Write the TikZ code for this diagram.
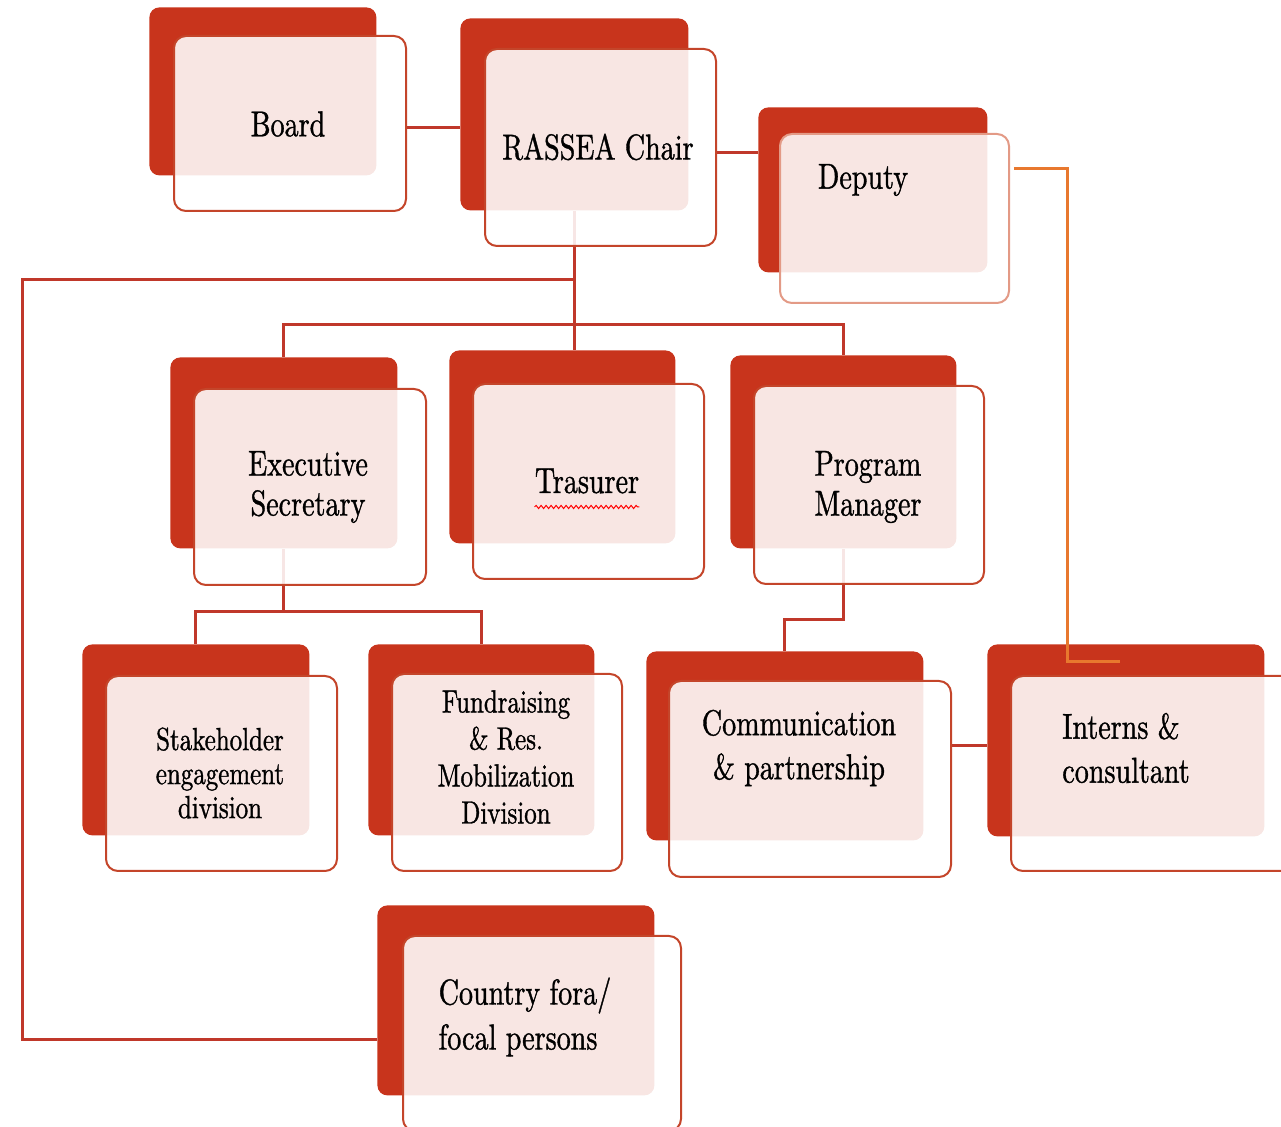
\documentclass[tikz,border=0pt]{standalone}
\usepackage{fontspec}
\setmainfont{lmroman10-regular.otf}[FakeStretch=0.78, FakeBold=1]
\usepackage{tikz}
\usetikzlibrary{positioning,calc,backgrounds,decorations.pathmorphing}

\definecolor{rustred}{HTML}{C8341C}
\definecolor{edgered}{HTML}{C4452A}
\definecolor{linered}{HTML}{C0382A}
\definecolor{deporange}{HTML}{E8782E}
\definecolor{deplight}{HTML}{E39A86}

\begin{document}
\begin{tikzpicture}[
  x=0.5pt, y=-0.5pt,
  backbox/.style={
    rectangle, rounded corners=5pt, fill=rustred, anchor=north west,
    inner sep=0pt, minimum width=113.5pt, minimum height=95.5pt
  },
  frontbox/.style={
    rectangle, rounded corners=6pt, draw=edgered, line width=1pt,
    fill=white, fill opacity=0.88, anchor=north west,
    inner sep=0pt, minimum width=115.5pt, minimum height=97.5pt
  },
  wide/.style={minimum width=138.5pt},
  widefront/.style={minimum width=141pt},
  lbl/.style={font=\fontsize{18}{20}\selectfont, align=center, inner sep=0pt},
  small/.style={font=\fontsize{16}{17}\selectfont},
  conn/.style={draw=linered, line width=1.5pt},
  spell/.style={draw=red, line width=0.5pt,
    decorate, decoration={snake, amplitude=0.8pt, segment length=2.5pt}}
]
\useasboundingbox (0,0) rectangle (1281,1127);

% Top row
\node[backbox, minimum height=84pt] (boardB) at (149,7) {};
\node[frontbox, minimum width=116pt, minimum height=87.5pt] (board) at (173,35) {};
\node[lbl] (boardT) at (288,124) {Board};

\node[backbox, minimum width=114pt, minimum height=96pt] (chairB) at (460,18) {};
\node[frontbox, minimum height=98.5pt] (chair) at (484,48) {};
\node[lbl] (chairT) at (598,147) {RASSEA Chair};

\node[backbox, minimum width=114.5pt, minimum height=82.5pt] (depB) at (758,107) {};
\node[frontbox, draw=deplight, minimum width=114.5pt, minimum height=84.5pt] (dep) at (779,133) {};
\node[lbl] (depT) at (863,180) {Deputy};

% Middle row
\node[backbox] (execB) at (170,357) {};
\node[frontbox, minimum width=116pt, minimum height=98pt] (exec) at (193,388) {};
\node[lbl, font=\fontsize{18}{20}\selectfont] (execT) at (308,487) {Executive\\Secretary};

\node[backbox, minimum width=113pt, minimum height=96.5pt] (trasB) at (449,350) {};
\node[frontbox] (tras) at (472,383) {};
\node[lbl] (trasT) at (587,481) {Trasurer};
\draw[spell] ($(trasT.base west)+(0,14)$) -- ($(trasT.base east)+(0,14)$);

\node[backbox, minimum width=113pt, minimum height=96.5pt] (pmB) at (730,355) {};
\node[frontbox, minimum width=115pt, minimum height=99pt] (pm) at (753,385) {};
\node[lbl] (pmT) at (868,487) {Program\\Manager};

% Bottom row
\node[backbox] (stkB) at (82,644) {};
\node[frontbox] (stk) at (105,675) {};
\node[lbl, small] (stkT) at (220,773) {Stakeholder\\engagement\\division};

\node[backbox, minimum width=113pt] (fundB) at (368,644) {};
\node[frontbox, minimum width=115pt, minimum height=98.5pt] (fund) at (391,673) {};
\node[lbl, font=\fontsize{16}{18.5}\selectfont] (fundT) at (506,757) {Fundraising\\\& Res.\\Mobilization\\Division};

\node[backbox, wide, minimum height=94.5pt] (commB) at (646,651) {};
\node[frontbox, widefront, minimum height=98pt] (comm) at (668,680) {};
\node[lbl, font=\fontsize{18}{22}\selectfont] (commT) at (799,748) {Communication\\\& partnership};

\node[backbox, wide, minimum height=96pt] (intB) at (987,644) {};
\node[frontbox, widefront, minimum width=145pt] (int) at (1010,675) {};
\node[lbl, align=left, font=\fontsize{18}{22}\selectfont] (intT) at (1126,748) {Interns \&\\consultant};

% Country fora
\node[backbox, wide, minimum height=95pt] (ctryB) at (377,905) {};
\node[frontbox, minimum width=139pt] (ctry) at (402,935) {};
\node[lbl, align=left, font=\fontsize{18}{22.5}\selectfont] (ctryT) at (525,1017) {Country fora/\\focal persons};

% Connectors
\coordinate (lft) at (22,280);
\coordinate (bar) at (0,325);
\coordinate (bar2) at (0,612);
\coordinate (bar3) at (0,620);
\coordinate (ctryIn) at (0,1040);
\coordinate (depEnd) at (1120,662);
\coordinate (depRun) at (1067,0);

\begin{scope}[on background layer]
\draw[conn] ($(board.east)+(0,4)$) -- ($(board.east -| chairB.west)+(0,4)$);
\draw[conn] ($(chair.east)+(0,5)$) -- ($(chair.east -| depB.west)+(0,5)$);
\draw[conn] (chairB.south) -- (chairB.south |- trasB.north);
\draw[conn] (chairB.south |- lft) -- (lft) |- (ctryIn -| ctryB.west);
\draw[conn] (execB.north) -- (execB.north |- bar) -| (pmB.north);
\draw[conn] (execB.south) -- (execB.south |- bar2);
\draw[conn] (stkB.north) -- (stkB.north |- bar2) -| (fundB.north);
\draw[conn] (pmB.south) -- (pmB.south |- bar3) -| (commB.north);
\draw[conn] (commB.east -| comm.east) -- (commB.east -| intB.west);
\end{scope}
\draw[conn, draw=deporange] ($(dep.east)+(4,-50)$) -| (depRun |- depEnd) -- (depEnd);
\end{tikzpicture}
\end{document}
